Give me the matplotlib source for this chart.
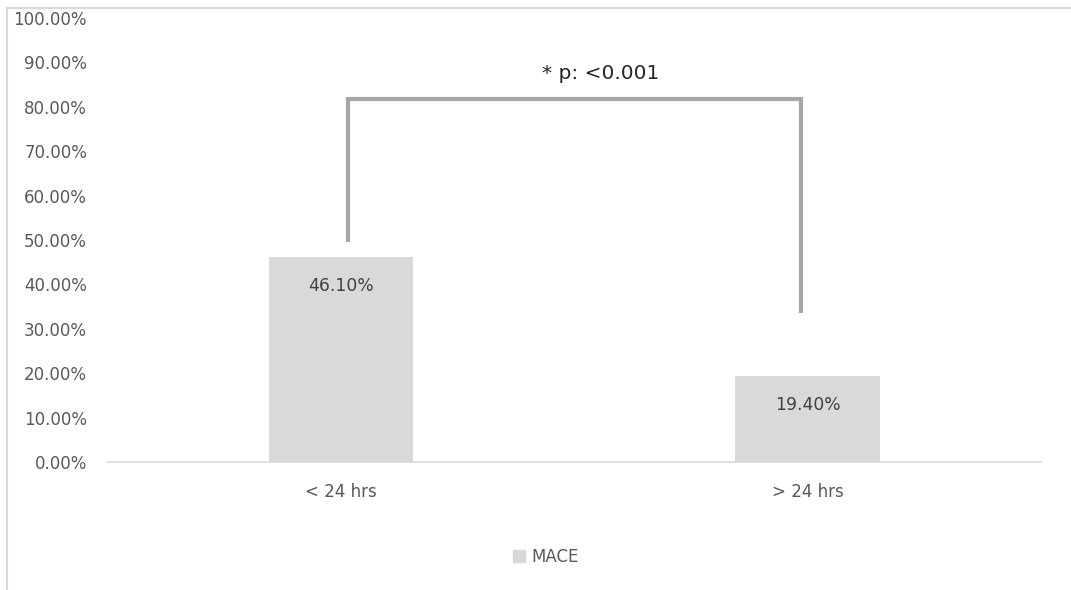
import matplotlib.pyplot as plt
from matplotlib.lines import Line2D
from matplotlib.patches import Patch

plt.rcParams['font.family'] = ['DejaVu Sans']

# Data
categories = ['< 24 hrs', '> 24 hrs']
mace_pct = [46.10, 19.40]
yticks = list(range(0, 101, 10))
p_text = '* p: <0.001'

bar_color = '#d9d9d9'
text_color = '#595959'

fig = plt.figure(figsize=(10.71, 5.9), dpi=100)
ax = fig.add_axes([0.1008, 0.217, 0.871, 0.7525])

x = list(range(len(categories)))
bars = ax.bar(x, mace_pct, width=0.31, color=bar_color, label='MACE')

# value labels inside the top of each bar
for xi, v in zip(x, mace_pct):
    ax.annotate(f'{v:.2f}%', (xi, v), xytext=(0, -21), textcoords='offset points',
                ha='center', va='center', fontsize=12.3, color='#404040')

ax.set_xlim(-0.5, 1.5)
ax.set_ylim(0, 100)
ax.set_yticks(yticks)
ax.set_yticklabels([f'{t:.2f}%' for t in yticks], fontsize=12, color=text_color)
ax.set_xticks(x)
ax.set_xticklabels(categories, fontsize=12, color=text_color)
ax.tick_params(axis='both', length=0)
ax.tick_params(axis='x', pad=15)
ax.tick_params(axis='y', pad=15)

for side in ['top', 'right', 'left']:
    ax.spines[side].set_visible(False)
ax.spines['bottom'].set_color('#d9d9d9')
ax.spines['bottom'].set_linewidth(1.2)

# significance bracket
ax.plot([0.015, 0.015, 0.985, 0.985], [49.6, 81.7, 81.7, 33.6],
        color='#a6a6a6', lw=3, solid_joinstyle='miter', solid_capstyle='butt', clip_on=False)
ax.text(0.557, 87.6, p_text, ha='center', va='center', fontsize=14.5, color='#262626')

# legend below the axis
fig.legend(handles=[Patch(color=bar_color, label='MACE')], loc='center',
           bbox_to_anchor=(0.510, 0.056), frameon=False, fontsize=12,
           handlelength=0.7, handleheight=0.7, handletextpad=0.4,
           labelcolor=text_color)

# chart area border (top and left edges)
fig.add_artist(Line2D([7 / 1071, 1], [1 - 8 / 590, 1 - 8 / 590], color='#d9d9d9', lw=1.5))
fig.add_artist(Line2D([7 / 1071, 7 / 1071], [0, 1 - 8 / 590], color='#d9d9d9', lw=1.5))

fig.savefig('out.png', dpi=100)
